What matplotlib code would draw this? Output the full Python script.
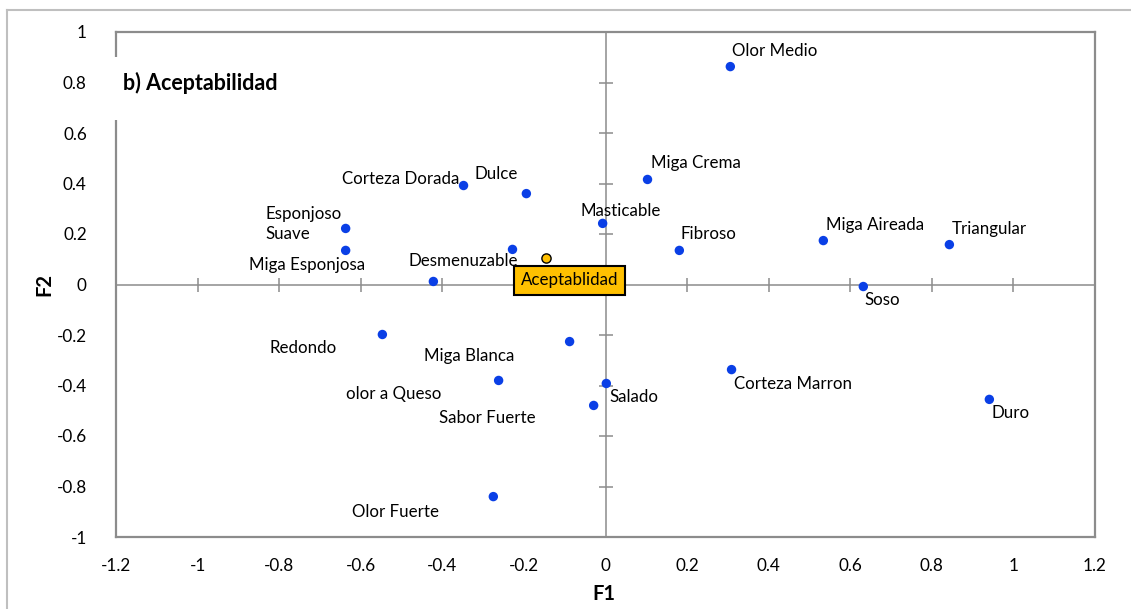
import matplotlib
matplotlib.use("Agg")
import matplotlib.pyplot as plt
from matplotlib.patches import Rectangle
from matplotlib.lines import Line2D

plt.rcParams['font.family'] = ['Lato', 'DejaVu Sans']

# ---- data ----
labels = ["Olor Medio", "Miga Crema", "Corteza Dorada", "Dulce", "Masticable",
          "Fibroso", "Miga Aireada", "Triangular", "Esponjoso", "Suave",
          "Miga Esponjosa", "Desmenuzable", "Soso", "Redondo", "Miga Blanca",
          "olor a Queso", "Salado", "Sabor Fuerte", "Corteza Marron", "Duro",
          "Olor Fuerte"]
f1 = [0.306, 0.103, -0.348, -0.194, -0.007,
      0.181, 0.534, 0.843, -0.637, -0.637,
      -0.422, -0.228, 0.632, -0.547, -0.088,
      -0.262, 0.002, -0.029, 0.309, 0.941,
      -0.275]
f2 = [0.863, 0.416, 0.392, 0.360, 0.242,
      0.135, 0.174, 0.158, 0.222, 0.135,
      0.012, 0.139, -0.008, -0.198, -0.226,
      -0.380, -0.392, -0.479, -0.337, -0.455,
      -0.840]
acc_label = "Aceptablidad"
acc_f1 = [-0.147]
acc_f2 = [0.103]
xticks = [-1.2, -1, -0.8, -0.6, -0.4, -0.2, 0, 0.2, 0.4, 0.6, 0.8, 1, 1.2]
yticks = [-1, -0.8, -0.6, -0.4, -0.2, 0, 0.2, 0.4, 0.6, 0.8, 1]

# label placement (offset pixels, horizontal alignment)
offsets = {
    "Olor Medio": (2, 16, 'left'), "Miga Crema": (3, 16, 'left'),
    "Corteza Dorada": (-4, 7, 'right'), "Dulce": (-8, 20, 'right'),
    "Masticable": (-22, 12, 'left'), "Fibroso": (1, 16, 'left'),
    "Miga Aireada": (3, 16, 'left'), "Triangular": (2, 16, 'left'),
    "Esponjoso": (-4, 14, 'right'), "Suave": (-36, 16, 'right'),
    "Miga Esponjosa": (-68, 16, 'right'), "Desmenuzable": (6, -12, 'right'),
    "Soso": (1, -13, 'left'), "Redondo": (-46, -14, 'right'),
    "Miga Blanca": (-55, -14, 'right'), "olor a Queso": (-57, -14, 'right'),
    "Salado": (3, -14, 'left'), "Sabor Fuerte": (-58, -13, 'right'),
    "Corteza Marron": (2, -14, 'left'), "Duro": (2, -14, 'left'),
    "Olor Fuerte": (-54, -15, 'right'),
}

W, H = 1131, 609
fig = plt.figure(figsize=(W / 100, H / 100), dpi=100)
fig.patch.set_facecolor('white')

# outer chart border (top and left visible)
fig.add_artist(Line2D([7 / W, 7 / W], [0, 1 - 10 / H], color='#BFBFBF', lw=1.5,
                      transform=fig.transFigure))
fig.add_artist(Line2D([7 / W, 1], [1 - 10 / H, 1 - 10 / H], color='#BFBFBF', lw=1.5,
                      transform=fig.transFigure))

left, right, top, bottom = 116, 1095, 32, 537
ax = fig.add_axes([left / W, 1 - bottom / H, (right - left) / W, (bottom - top) / H])
ax.set_xlim(-1.2, 1.2)
ax.set_ylim(-1, 1)
for s in ax.spines.values():
    s.set_color('#8C8C8C')
    s.set_linewidth(1.6)
ax.set_xticks(xticks)
ax.set_yticks(yticks)
ax.set_xticklabels([f"{t:g}" for t in xticks])
ax.set_yticklabels([f"{t:g}" for t in yticks])
ax.tick_params(length=0, labelsize=12.3, colors='black')
ax.tick_params(axis='x', pad=15)
ax.tick_params(axis='y', pad=21)

# zero axes with crossing ticks
ax.axhline(0, color='#8C8C8C', lw=1.1, zorder=1)
ax.axvline(0, color='#8C8C8C', lw=1.1, zorder=1)
inner_x = [t for t in xticks if abs(t) < 1.15 and t != 0]
inner_y = [t for t in yticks if abs(t) < 0.95 and t != 0]
ax.plot(inner_x, [0] * len(inner_x), linestyle='none', marker='|', ms=10,
        mew=1.1, color='#8C8C8C', zorder=1)
ax.plot([0] * len(inner_y), inner_y, linestyle='none', marker='_', ms=10,
        mew=1.1, color='#8C8C8C', zorder=1)

ax.set_xlabel("F1", fontsize=14.5, fontweight='bold')
ax.set_ylabel("F2", fontsize=14.5, fontweight='bold')
ax.xaxis.set_label_coords((604 - left) / (right - left), -(584 - bottom) / (bottom - top))
ax.yaxis.set_label_coords(-(116 - 54) / (right - left), (bottom - 285) / (bottom - top))

# points
ax.scatter(f1, f2, s=46, color='#0A3FE6', edgecolors='none', zorder=4)
for lab, x, y in zip(labels, f1, f2):
    dx, dy, ha = offsets[lab]
    ax.annotate(lab, (x, y), xytext=(dx, dy), textcoords='offset pixels',
                ha=ha, va='center', fontsize=12.2, color='black', zorder=5)

ax.scatter(acc_f1, acc_f2, s=44, color='#FFC000', edgecolors='black',
           linewidths=1.0, zorder=6)
ax.annotate(acc_label, (acc_f1[0], acc_f2[0]), xytext=(24, -22),
            textcoords='offset pixels', ha='center', va='center', fontsize=12.2,
            color='black', zorder=7,
            bbox=dict(boxstyle='square,pad=0.4', fc='#FFC000', ec='black', lw=1.5))

# title with white box hiding the frame
ax.add_patch(Rectangle((-1.23, 0.65), 0.5, 0.25, facecolor='white',
                       edgecolor='none', clip_on=False, zorder=8))
ax.text(-1.183, 0.8, "b) Aceptabilidad", fontsize=15.5, fontweight='bold',
        ha='left', va='center', zorder=9)

fig.savefig("out.png", dpi=100)
